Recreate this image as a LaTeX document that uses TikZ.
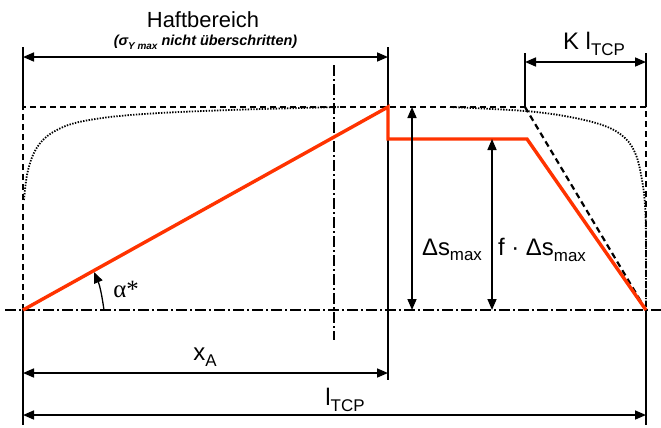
\documentclass[tikz,border=0pt]{standalone}
\usepackage{fontspec}
\setmainfont{Liberation Sans}
\newfontfamily\serifschrift{Liberation Serif}
\usetikzlibrary{arrows.meta}
\definecolor{haftrot}{RGB}{255,51,0}
\newcommand{\tief}[2]{\raisebox{-0.45ex}{\fontsize{#1}{#1}\selectfont #2}}

\begin{document}
\begin{tikzpicture}[
    x=1bp, y=-1bp,
    mass/.style={line width=1.6bp, {Triangle[length=11bp,width=9bp]}-{Triangle[length=11bp,width=9bp]}},
    hilfs/.style={line width=1.8bp},
    kontur/.style={line width=2.2bp, dash pattern=on 6bp off 4bp},
    mittel/.style={line width=2.2bp, dash pattern=on 11bp off 3bp on 2bp off 3bp},
    punkt/.style={line width=1.8bp, dash pattern=on 1.4bp off 1.4bp},
    verlauf/.style={line width=3.4bp, draw=haftrot, line join=miter},
    every node/.style={inner sep=0pt}
]
\useasboundingbox (0,0) rectangle (661,427);

% Eckpunkte
\coordinate (A) at (23,310);
\coordinate (S) at (388,107);
\coordinate (S2) at (388,139);
\coordinate (K) at (527,139);
\coordinate (E) at (646,310);
\coordinate (KT) at (525,107);
\coordinate (LO) at (23,107);
\coordinate (RO) at (646,107);

% Hilfslinien
\draw[hilfs] (23,47) -- (LO);
\draw[hilfs] (A) -- (23,425);
\draw[hilfs] (388,47) -- (388,380);
\draw[hilfs] (525,53) -- (KT);
\draw[hilfs] (646,53) -- (RO);
\draw[hilfs] (E) -- (646,425);

% Kontur
\draw[kontur] (A) -- (LO) -- (RO) -- (E);
\draw[punkt] plot[smooth, tension=0.6] coordinates {(24,200) (27,175) (33,155) (42,141) (55,131) (75,123) (110,117) (160,113) (230,110) (300,108) (340,107)};
\draw[punkt] plot[smooth, tension=0.6] coordinates {(450,107) (525,111) (570,117) (605,126) (625,138) (636,155) (642,180) (645,205) (646,240) (646,305)};
\draw[mittel] (5,310) -- (661,310);
\draw[mittel, line width=1.2bp] (334,65) -- (334,340);
\draw[kontur] (KT) -- (E);

% Verlauf
\draw[verlauf] (A) -- (S) -- (S2) -- (K) -- (E);

% Masse
\draw[mass] (23,57) -- node[above=7bp] (hinweis) {\fontsize{14.5}{14.5}\selectfont\bfseries\itshape (σ\tief{10}{Y max} nicht überschritten)} (388,57);
\node (haft) at (203,20) {\fontsize{22}{22}\selectfont Haftbereich};
\draw[mass] (525,62) -- (646,62);
\node (kl) at (594,44) {\fontsize{24}{24}\selectfont K l\tief{17}{TCP}};
\draw[mass] (412,107) -- (412,310);
\node (ds) at (452,250) {\fontsize{24}{24}\selectfont Δs\tief{17}{max}};
\draw[mass] (492,139) -- (492,310);
\node (fds) at (542,250) {\fontsize{24}{24}\selectfont f · Δs\tief{17}{max}};
\draw[mass] (23,373) -- (388,373);
\node (xa) at (205,357) {\fontsize{24}{24}\selectfont x\tief{17}{A}};
\draw[mass] (23,415) -- (646,415);
\node (ltcp) at (345,400) {\fontsize{24}{24}\selectfont l\tief{17}{TCP}};

% Winkel
\draw[line width=1.3bp, -{Triangle[length=11bp,width=9bp]}] (104,310) .. controls (102,296) and (100,286) .. (94,272);
\node (alpha) at (126,289) {\fontsize{25}{25}\selectfont\serifschrift α*};
\end{tikzpicture}
\end{document}
